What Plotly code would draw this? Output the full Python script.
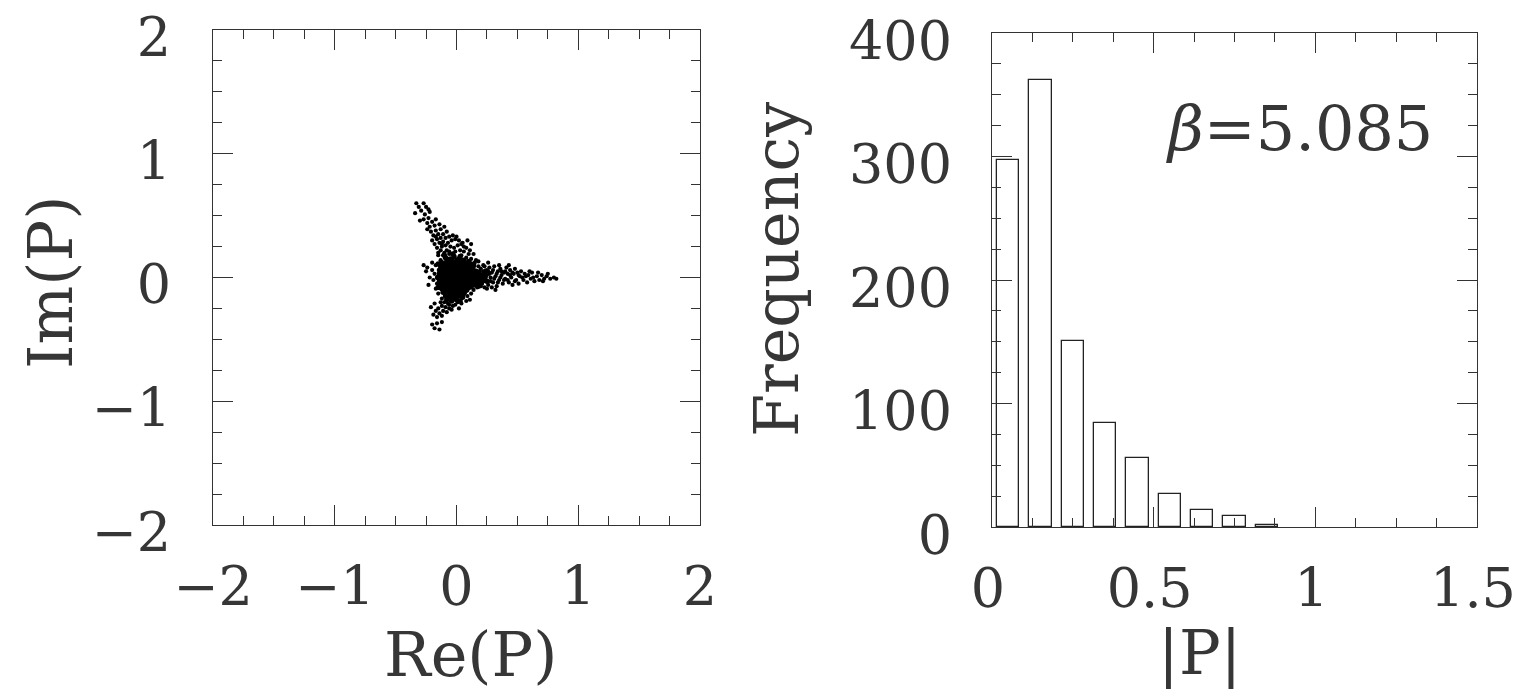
import plotly.graph_objects as go

# ---------------- data ----------------
# Histogram of |P| (bin centres and counts)
bin_centers = [0.05, 0.15, 0.25, 0.35, 0.45, 0.55, 0.65, 0.75, 0.85]
counts = [297, 362, 151, 84, 56, 27, 14, 9, 2]

# Scatter of P in the complex plane (Re, Im), estimated from the left panel
core_pts = [
    (-0.09, 0.16), (-0.05, 0.15), (-0.02, 0.17), (0.02, 0.15), (0.06, 0.14),
    (-0.12, 0.12), (-0.08, 0.13), (-0.04, 0.11), (-0.01, 0.12), (0.03, 0.12), (0.07, 0.11), (0.10, 0.13),
    (-0.13, 0.09), (-0.10, 0.08), (-0.06, 0.09), (-0.03, 0.10), (0.00, 0.09), (0.04, 0.08), (0.07, 0.09), (0.11, 0.08), (0.14, 0.10),
    (-0.14, 0.06), (-0.11, 0.05), (-0.07, 0.06), (-0.04, 0.07), (-0.01, 0.05), (0.02, 0.06), (0.05, 0.06), (0.09, 0.05), (0.12, 0.07), (0.16, 0.05),
    (-0.14, 0.03), (-0.10, 0.02), (-0.07, 0.03), (-0.03, 0.04), (0.00, 0.02), (0.03, 0.03), (0.06, 0.02), (0.10, 0.03), (0.13, 0.02), (0.17, 0.03), (0.20, 0.02),
    (-0.13, 0.00), (-0.10, -0.01), (-0.06, 0.00), (-0.03, 0.01), (0.01, -0.01), (0.04, 0.00), (0.07, 0.01), (0.11, -0.01), (0.14, 0.00), (0.18, 0.01), (0.21, -0.01),
    (-0.14, -0.03), (-0.11, -0.04), (-0.08, -0.02), (-0.04, -0.03), (-0.01, -0.04), (0.02, -0.03), (0.06, -0.02), (0.09, -0.04), (0.12, -0.03), (0.16, -0.02), (0.19, -0.04),
    (-0.13, -0.06), (-0.09, -0.07), (-0.06, -0.05), (-0.02, -0.06), (0.01, -0.07), (0.05, -0.06), (0.08, -0.05), (0.11, -0.07), (0.15, -0.06),
    (-0.12, -0.09), (-0.08, -0.10), (-0.05, -0.08), (-0.01, -0.09), (0.03, -0.10), (0.06, -0.09), (0.10, -0.08),
    (-0.11, -0.12), (-0.07, -0.13), (-0.04, -0.11), (0.00, -0.12), (0.04, -0.13), (0.07, -0.11),
    (-0.09, -0.15), (-0.05, -0.16), (-0.02, -0.14), (0.02, -0.15), (0.05, -0.16),
    (-0.08, -0.18), (-0.04, -0.19), (0.00, -0.18), (0.03, -0.19),
    (-0.07, 0.145), (-0.035, 0.135), (0.005, 0.14), (0.045, 0.13),
    (-0.105, 0.105), (-0.06, 0.115), (-0.02, 0.085), (0.02, 0.10), (0.055, 0.10), (0.09, 0.10),
    (-0.125, 0.075), (-0.085, 0.07), (-0.05, 0.075), (-0.015, 0.07), (0.025, 0.075), (0.065, 0.07), (0.10, 0.065), (0.135, 0.08),
    (-0.12, 0.04), (-0.085, 0.045), (-0.045, 0.05), (-0.015, 0.035), (0.02, 0.045), (0.045, 0.04), (0.08, 0.04), (0.115, 0.045), (0.15, 0.04), (0.185, 0.045),
    (-0.115, 0.015), (-0.08, 0.015), (-0.045, 0.015), (-0.015, 0.01), (0.02, 0.015), (0.055, 0.01), (0.09, 0.015), (0.125, 0.01), (0.16, 0.015), (0.195, 0.01), (0.23, 0.02),
    (-0.125, -0.015), (-0.09, -0.02), (-0.05, -0.015), (-0.02, -0.02), (0.015, -0.015), (0.045, -0.02), (0.08, -0.015), (0.105, -0.02), (0.14, -0.015), (0.175, -0.02), (0.22, -0.025),
    (-0.12, -0.05), (-0.09, -0.045), (-0.055, -0.04), (-0.025, -0.045), (0.01, -0.05), (0.035, -0.04), (0.07, -0.045), (0.10, -0.05), (0.135, -0.045), (0.17, -0.05),
    (-0.11, -0.075), (-0.07, -0.08), (-0.035, -0.075), (0.00, -0.08), (0.04, -0.075), (0.075, -0.08), (0.12, -0.075),
    (-0.10, -0.105), (-0.06, -0.11), (-0.025, -0.10), (0.015, -0.11), (0.05, -0.105), (0.085, -0.10),
    (-0.075, -0.14), (-0.035, -0.13), (0.01, -0.14), (0.055, -0.135),
    (-0.095, 0.03), (-0.055, 0.025), (-0.025, 0.055), (0.015, 0.03), (0.04, 0.055), (0.085, 0.025),
    (-0.10, -0.03), (-0.065, -0.03), (-0.03, -0.015), (0.03, -0.055), (0.06, -0.035), (0.095, -0.065),
    (-0.085, 0.10), (-0.04, 0.095), (0.01, 0.11), (0.05, 0.115), (-0.08, -0.06), (-0.045, -0.095),
    (0.02, -0.085), (0.065, -0.12), (-0.02, -0.165), (-0.06, -0.135),
    (-0.15, 0.11), (-0.155, 0.00), (-0.15, -0.08), (0.12, 0.11), (0.18, -0.07), (0.24, 0.05),
    (0.25, -0.03), (-0.10, 0.18), (-0.03, 0.19), (0.03, 0.17),
]

halo_pts = [
    (-0.17, 0.10), (-0.18, 0.03), (-0.16, -0.05), (-0.17, -0.09), (-0.15, -0.13), (-0.13, 0.14), (-0.15, 0.18),
    (-0.11, 0.18), (-0.06, 0.19), (0.04, 0.18), (0.08, 0.16), (0.12, 0.15), (0.15, 0.12), (0.18, 0.09), (0.20, 0.07),
    (0.16, 0.14), (0.10, 0.19), (0.06, 0.21), (0.22, 0.10), (0.25, 0.06), (-0.20, 0.06), (-0.22, 0.00), (-0.19, -0.02),
    (-0.24, 0.08), (-0.20, 0.12), (0.14, -0.10), (0.12, -0.13), (0.09, -0.15), (0.08, -0.19), (0.04, -0.21),
    (-0.01, -0.22), (-0.06, -0.22), (-0.12, -0.17), (0.17, -0.08), (0.20, -0.07), (0.11, -0.18), (0.02, -0.25),
    (-0.04, -0.26), (0.18, 0.13), (0.26, 0.12), (-0.25, 0.05), (-0.27, 0.10), (-0.23, -0.06),
    (0.05, 0.28), (0.08, 0.24), (0.11, 0.22), (0.12, 0.27), (0.09, 0.30), (0.14, 0.19),
]

arm_upper_pts = [
    (-0.10, 0.20), (-0.13, 0.22), (-0.08, 0.22), (-0.16, 0.24), (-0.12, 0.25), (-0.09, 0.26), (-0.05, 0.25),
    (-0.02, 0.24), (0.01, 0.26), (-0.18, 0.27), (-0.14, 0.28), (-0.11, 0.29), (-0.07, 0.28), (-0.04, 0.30),
    (-0.01, 0.31), (0.02, 0.30), (-0.20, 0.30), (-0.16, 0.31), (-0.13, 0.32), (-0.09, 0.32), (-0.06, 0.33),
    (-0.03, 0.34), (0.00, 0.33), (-0.19, 0.34), (-0.15, 0.35), (-0.11, 0.35), (-0.08, 0.37), (-0.21, 0.37),
    (-0.17, 0.38), (-0.13, 0.39), (-0.22, 0.41), (-0.18, 0.42), (-0.14, 0.43), (-0.20, 0.45), (-0.24, 0.44),
    (-0.17, 0.47), (-0.23, 0.48), (-0.27, 0.47), (-0.30, 0.46), (-0.26, 0.51), (-0.22, 0.53), (-0.34, 0.52),
    (-0.29, 0.54), (-0.25, 0.57), (-0.33, 0.60), (-0.27, 0.60), (-0.23, 0.55), (-0.31, 0.57),
    (0.04, 0.27), (0.06, 0.25), (-0.01, 0.21), (0.03, 0.22), (-0.24, 0.39), (-0.10, 0.41),
    (-0.15, 0.20), (-0.06, 0.21), (-0.12, 0.27), (-0.17, 0.33),
]

arm_right_pts = [
    (0.22, 0.05), (0.24, -0.03), (0.25, 0.02), (0.26, -0.06), (0.27, 0.08), (0.28, 0.00), (0.29, 0.04),
    (0.30, -0.04), (0.31, 0.09), (0.32, 0.01), (0.33, -0.07), (0.34, 0.05), (0.35, -0.02), (0.36, 0.07),
    (0.37, 0.02), (0.38, -0.05), (0.39, 0.04), (0.40, -0.01), (0.41, 0.08), (0.42, 0.03), (0.43, -0.04),
    (0.44, 0.06), (0.45, 0.00), (0.46, -0.06), (0.47, 0.03), (0.48, 0.07), (0.49, -0.02), (0.50, 0.04),
    (0.51, -0.05), (0.52, 0.01), (0.53, 0.05), (0.55, -0.02), (0.56, 0.03), (0.58, -0.04), (0.59, 0.02),
    (0.61, -0.01), (0.62, 0.04), (0.64, -0.03), (0.66, 0.01), (0.68, -0.02), (0.70, 0.02), (0.72, -0.01),
    (0.74, 0.01), (0.77, -0.01), (0.80, 0.00), (0.82, -0.01),
    (0.23, 0.09), (0.25, -0.09), (0.27, 0.03), (0.28, -0.03), (0.30, 0.06), (0.31, -0.01), (0.33, 0.03),
    (0.34, -0.04), (0.36, 0.00), (0.37, 0.05), (0.39, -0.02), (0.40, 0.05), (0.42, -0.02), (0.44, 0.02),
    (0.46, 0.04), (0.48, -0.03), (0.51, 0.02), (0.54, 0.00), (0.57, 0.01), (0.60, 0.05), (0.63, 0.00),
    (0.67, 0.04), (0.71, -0.03), (0.75, 0.03), (0.29, -0.08), (0.35, 0.10), (0.43, 0.10), (0.32, -0.10),
    (0.24, 0.00), (0.26, 0.05), (0.21, -0.05), (0.23, -0.08),
]

arm_lower_pts = [
    (-0.07, -0.21), (-0.10, -0.20), (-0.13, -0.20), (-0.09, -0.24), (-0.12, -0.23), (-0.15, -0.25),
    (-0.18, -0.21), (-0.11, -0.27), (-0.14, -0.29), (-0.19, -0.30), (-0.16, -0.32), (-0.12, -0.31),
    (-0.16, -0.37), (-0.12, -0.36), (-0.20, -0.38), (-0.14, -0.42), (-0.18, -0.41), (-0.06, -0.25),
    (-0.08, -0.28), (-0.03, -0.23), (0.01, -0.20), (-0.21, -0.24), (-0.17, -0.27),
]

x_ticks_left = [-2, -1, 0, 1, 2]
y_ticks_left = [-2, -1, 0, 1, 2]
x_ticks_right = [0, 0.5, 1, 1.5]
x_ticktext_right = ["0", "0.5", "1", "1.5"]
y_ticks_right = [0, 100, 200, 300, 400]

# ---------------- figure ----------------
outer_pts = halo_pts + arm_upper_pts + arm_right_pts + arm_lower_pts

FONT = "DejaVu Serif"
TXT = "#363636"
LINE = "#333333"

fig = go.Figure()
fig.add_trace(go.Scatter(
    x=[p[0] for p in core_pts], y=[p[1] for p in core_pts],
    mode="markers", xaxis="x", yaxis="y",
    marker=dict(color="black", size=5.4, line=dict(width=0)),
    showlegend=False, hoverinfo="skip",
))
fig.add_trace(go.Scatter(
    x=[p[0] for p in outer_pts], y=[p[1] for p in outer_pts],
    mode="markers", xaxis="x", yaxis="y",
    marker=dict(color="black", size=4.2, line=dict(width=0)),
    showlegend=False, hoverinfo="skip",
))
fig.add_trace(go.Bar(
    x=bin_centers, y=counts, width=0.07, xaxis="x2", yaxis="y2",
    marker=dict(color="white", line=dict(color="#222222", width=1.3)),
    showlegend=False, hoverinfo="skip",
))

common = dict(
    showgrid=False, zeroline=False, showline=True, mirror="ticks",
    linecolor=LINE, linewidth=1.3, ticks="inside", ticklen=20, tickwidth=1.2,
    tickcolor=LINE, tickfont=dict(family=FONT, size=54, color=TXT),
    automargin=False, ticklabeloverflow="allow",
)
minor_common = dict(ticklen=9, ticks="inside", tickcolor=LINE, tickwidth=1)

fig.update_layout(
    width=1517, height=695, margin=dict(l=0, r=0, t=0, b=0),
    paper_bgcolor="white", plot_bgcolor="white", showlegend=False,
    bargap=0,
    xaxis=dict(domain=[213/1517, 700/1517], range=[-2, 2], tickvals=x_ticks_left,
               minor=dict(dtick=0.25, **minor_common),
               ticklabelstandoff=14, anchor="y", **common),
    yaxis=dict(domain=[170/695, 665/695], range=[-2, 2], tickvals=y_ticks_left,
               minor=dict(dtick=0.25, **minor_common),
               ticklabelstandoff=30, ticklabelshift=7, anchor="x", **common),
    xaxis2=dict(domain=[992/1517, 1477/1517], range=[0, 1.5], tickvals=x_ticks_right,
                ticktext=x_ticktext_right,
                minor=dict(dtick=0.125, **minor_common),
                ticklabelstandoff=14, ticklabelshift=-4, anchor="y2", **common),
    yaxis2=dict(domain=[168/695, 662/695], range=[0, 400], tickvals=y_ticks_right,
                minor=dict(dtick=25, **minor_common),
                ticklabelstandoff=28, ticklabelshift=8, anchor="x2", **common),
    annotations=[
        dict(text="Im(P)", x=50/1517, y=(695-283)/695, xref="paper", yref="paper",
             textangle=-90, showarrow=False, xanchor="center", yanchor="middle",
             font=dict(family=FONT, size=62, color=TXT)),
        dict(text="Re(P)", x=470/1517, y=(695-654)/695, xref="paper", yref="paper",
             showarrow=False, xanchor="center", yanchor="middle",
             font=dict(family=FONT, size=62, color=TXT)),
        dict(text="Frequency", x=776/1517, y=(695-270)/695, xref="paper", yref="paper",
             textangle=-90, showarrow=False, xanchor="center", yanchor="middle",
             font=dict(family=FONT, size=62, color=TXT)),
        dict(text="|P|", x=1200/1517, y=(695-652)/695, xref="paper", yref="paper",
             showarrow=False, xanchor="center", yanchor="middle",
             font=dict(family=FONT, size=62, color=TXT)),
        dict(text="<i>β</i>=5.085", x=1299/1517, y=(695-128)/695, xref="paper", yref="paper",
             showarrow=False, xanchor="center", yanchor="middle",
             font=dict(family=FONT, size=62, color=TXT)),
    ],
)

fig.write_html("out.html")
